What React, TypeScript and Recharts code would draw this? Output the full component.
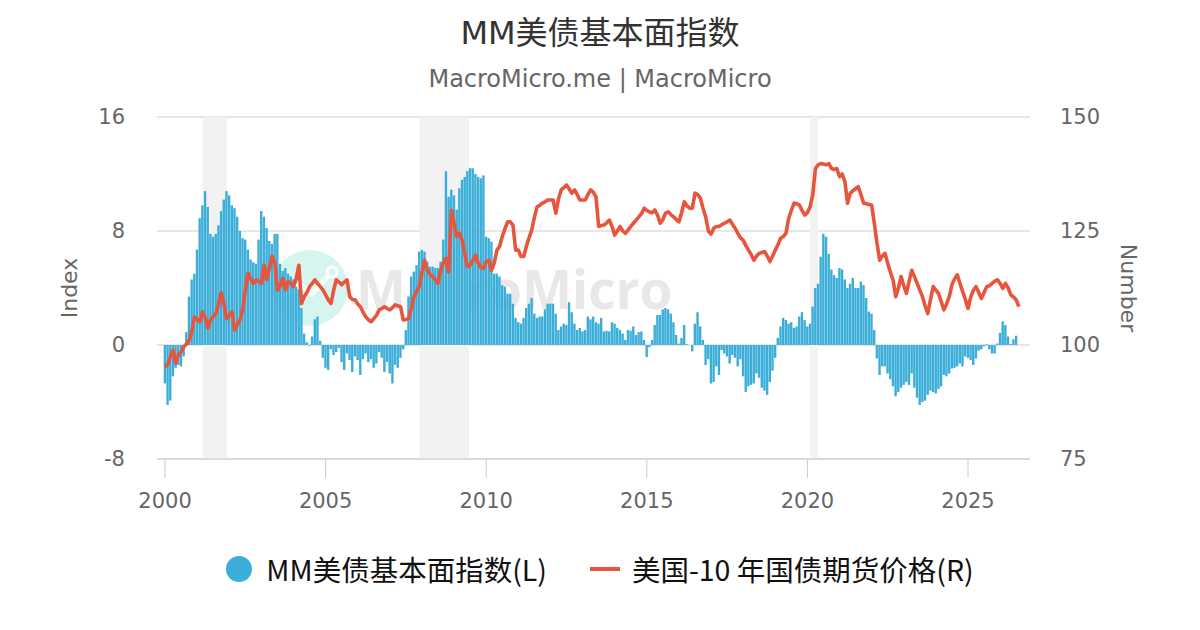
import { ComposedChart, Bar, Line, XAxis, YAxis, CartesianGrid, ReferenceArea } from 'recharts';

// monthly series, first value = Jan 2000
const START_YEAR = 2000;

// MM美债基本面指数 (left axis)
const INDEX_VALUES = [
  -2.7, -4.2, -3.9, -2.2, -1.6, -1.4, -1.5, -0.8, 0.9, 3.4, 4.6, 5.0,
  6.7, 8.9, 9.8, 10.8, 9.7, 7.8, 7.6, 7.8, 8.4, 9.4, 10.2, 10.8,
  10.5, 9.8, 9.6, 9.0, 8.0, 7.5, 7.4, 6.7, 6.0, 5.8, 5.7, 7.4,
  9.4, 9.0, 8.2, 7.3, 7.1, 7.8, 7.8, 5.7, 5.2, 5.4, 5.0, 4.8,
  4.6, 4.1, 3.9, 2.6, 0.8, 0.2, -0.05, 0.6, 1.8, 2.0, 0.3, -0.9,
  -1.6, -1.75, -0.3, -0.7, -0.5, -0.2, -1.2, -1.75, -0.6, -1.05, -1.9, -0.8,
  -1.05, -2.1, -1.0, -0.6, -1.2, -1.0, -1.6, -1.3, -0.5, -0.9, -1.9, -1.2,
  -2.0, -2.7, -1.4, -1.6, -0.9, -0.3, 1.05, 3.4, 4.8, 5.15, 5.6, 6.55,
  6.67, 6.55, 5.85, 5.5, 5.5, 5.4, 5.4, 5.85, 7.4, 12.2, 10.4, 10.9,
  10.5, 9.5, 11.0, 11.6, 11.8, 12.2, 12.4, 12.4, 12.0, 11.8, 11.7, 11.9,
  7.6, 7.5, 7.25, 5.0, 5.0, 4.8, 4.2, 4.1, 3.6, 3.6, 2.9, 1.9,
  1.6, 1.5, 1.9, 2.6, 2.9, 3.3, 2.2, 1.9, 2.0, 2.0, 2.5, 2.9,
  2.9, 2.9, 2.2, 1.05, 1.3, 1.5, 1.4, 3.0, 2.3, 1.5, 1.05, 1.2,
  0.95, 1.05, 2.0, 1.8, 2.0, 1.6, 1.5, 1.9, 0.95, 1.0, 0.95, 1.6,
  1.5, 1.2, 1.05, 0.8, 0.35, 1.05, 1.0, 1.3, 0.7, 0.9, 0.95, 0.35,
  -0.85, -0.15, 0.35, 1.4, 2.1, 2.1, 2.5, 2.6, 2.5, 2.2, 1.6, 0.7,
  0.1, 0.5, 1.4, 0.05, 0.0, -0.45, 1.5, 2.3, 1.3, 0.35, -1.4, -1.0,
  -2.7, -2.6, -1.5, -2.1, -0.35, -0.6, -0.8, -1.3, -0.7, -0.9, -1.5, -1.0,
  -2.2, -3.3, -2.9, -2.8, -2.7, -2.0, -2.3, -3.0, -3.2, -3.5, -2.6, -1.8,
  -0.9, 0.5, 1.3, 1.9, 1.75, 1.5, 1.6, 1.2, 1.3, 2.0, 2.3, 1.75,
  1.3, 1.5, 2.7, 4.0, 4.3, 6.2, 7.8, 7.6, 6.4, 5.3, 4.9, 4.7,
  5.4, 5.3, 4.6, 4.0, 4.3, 4.7, 4.0, 4.0, 4.45, 4.2, 3.3, 2.35,
  2.2, 1.05, -0.95, -2.1, -1.5, -1.5, -2.0, -2.4, -2.9, -3.6, -3.3, -3.0,
  -2.8, -2.6, -2.8, -2.0, -3.0, -3.7, -4.2, -4.0, -3.9, -3.5, -3.2, -3.3,
  -3.4, -3.1, -2.9, -2.1, -2.2, -2.0, -1.65, -1.6, -1.5, -1.3, -1.5, -0.8,
  -0.9, -1.05, -1.4, -0.95, -0.4, -0.3, -0.1, 0.05, -0.3, -0.6, -0.6, 0.1,
  0.85, 1.65, 1.4, 0.6, 0.05, 0.4, 0.65,
];

// 美国-10 年国债期货价格 (right axis)
const BOND_PRICES = [
  95.2, 95.8, 97.4, 98.9, 96.0, 97.8, 98.5, 99.6, 100.2, 101.0, 102.9, 106.2,
  105.6, 105.1, 107.3, 106.0, 103.7, 105.5, 106.2, 106.9, 109.0, 111.5, 109.0, 105.8,
  106.5, 107.3, 103.3, 104.5, 105.5, 107.7, 112.1, 115.7, 114.5, 113.5, 114.3, 114.0,
  113.5, 117.5, 114.3, 117.0, 119.5, 118.0, 112.0, 113.0, 114.6, 112.1, 113.9, 113.5,
  112.8, 114.5, 117.5, 109.1, 110.6, 111.5, 112.8, 113.5, 114.3, 113.5, 112.8, 112.1,
  111.0, 109.9, 109.1, 112.0, 114.3, 113.8, 113.2, 113.8, 114.3, 110.6, 110.0, 109.9,
  109.0, 108.4, 107.2, 106.2, 105.5, 105.1, 105.8, 106.5, 107.7, 108.0, 108.4, 108.0,
  107.7, 108.2, 108.8, 108.6, 108.4, 105.5, 105.6, 105.8, 108.0, 110.6, 111.8, 112.8,
  116.0, 118.6, 116.4, 115.5, 115.0, 114.3, 113.5, 116.4, 118.0, 119.0, 116.0, 129.5,
  126.7, 123.8, 124.5, 123.0, 120.0, 117.2, 117.5, 118.5, 119.7, 118.0, 117.0, 116.8,
  118.3, 118.6, 116.4, 118.0, 120.8, 121.6, 123.8, 125.5, 127.0, 127.0, 126.3, 120.8,
  120.8, 119.4, 119.4, 121.6, 123.5, 125.2, 128.0, 130.3, 130.6, 131.1, 131.4, 131.8,
  131.8, 131.8, 128.9, 132.0, 134.0, 134.5, 135.1, 134.2, 133.3, 134.0, 133.0, 131.8,
  131.8, 131.8, 133.0, 134.0, 133.5, 132.5, 126.0, 126.2, 126.3, 126.8, 127.4, 126.0,
  124.1, 125.0, 126.0, 125.0, 124.5, 125.2, 126.0, 126.7, 127.4, 128.1, 128.8, 130.0,
  129.5, 129.2, 129.0, 129.6, 128.5, 126.7, 127.5, 128.9, 129.2, 128.6, 128.1, 127.5,
  127.0, 129.0, 131.4, 130.5, 130.0, 130.0, 133.3, 133.0, 132.2, 130.0, 128.1, 125.0,
  124.3, 125.6, 126.0, 126.0, 126.4, 126.7, 127.0, 127.4, 126.5, 125.6, 124.5, 123.5,
  123.0, 121.8, 120.8, 119.8, 118.6, 119.5, 120.1, 120.3, 120.5, 119.5, 118.3, 119.5,
  120.8, 122.0, 123.4, 123.8, 124.5, 127.8, 129.5, 131.1, 131.0, 130.7, 129.5, 128.5,
  129.0, 130.3, 133.0, 138.7, 139.5, 139.8, 139.7, 139.5, 139.8, 138.7, 138.5, 138.7,
  136.9, 137.5, 135.8, 131.1, 133.3, 133.8, 134.3, 134.7, 133.0, 131.1, 131.0, 130.8,
  130.7, 126.7, 122.3, 118.6, 119.5, 120.1, 117.9, 116.0, 114.3, 110.6, 112.5, 115.0,
  113.0, 111.3, 114.0, 116.4, 115.0, 113.5, 112.0, 110.6, 108.5, 106.9, 110.0, 112.8,
  112.0, 111.3, 109.5, 107.7, 109.0, 110.6, 113.2, 114.5, 115.4, 113.5, 111.7, 110.0,
  108.0, 110.5, 112.0, 112.8, 111.5, 110.2, 111.5, 112.8, 113.0, 113.5, 114.0, 114.3,
  113.5, 112.4, 113.5, 112.5, 111.0, 110.5, 109.9, 108.4,
];

const YEAR_TICKS = [2000, 2005, 2010, 2015, 2020, 2025];
const INDEX_TICKS = [-8, 0, 8, 16];
const PRICE_TICKS = [75, 100, 125, 150];

// US recessions (shaded)
const RECESSION_FROM = [2001.17, 2007.92, 2020.08];
const RECESSION_TO = [2001.92, 2009.46, 2020.33];

const BAR_COLOR = '#3aaed8';
const LINE_COLOR = '#e8553d';
const FONT = '"DejaVu Sans", "Noto Sans CJK SC", sans-serif';

const rows = BOND_PRICES.map((price, i) => ({
  t: START_YEAR + i / 12,
  index: i < INDEX_VALUES.length ? INDEX_VALUES[i] : null,
  price,
}));

function Watermark() {
  return (
    <div style={{ position: 'absolute', left: 270, top: 248, display: 'flex', alignItems: 'center' }}>
      <svg width={80} height={80}>
        <circle cx={40} cy={40} r={38} fill="#d5f5ee" />
        <polyline points="14,50 30,36 42,46 58,28" fill="none" stroke="#fff" strokeWidth={5} />
        <circle cx={62} cy={24} r={5} fill="none" stroke="#fff" strokeWidth={3} />
      </svg>
      <span style={{ marginLeft: 6, fontFamily: '"Open Sans", sans-serif', fontWeight: 700, fontSize: 53, color: '#e8e8e8' }}>
        MacroMicro
      </span>
    </div>
  );
}

export default function App() {
  return (
    <div style={{ position: 'absolute', left: 0, top: 0, width: 1200, height: 630, background: '#fff', fontFamily: FONT }}>
      <div style={{ position: 'absolute', top: 7, width: 1200, textAlign: 'center', fontSize: 32, color: '#333' }}>
        MM美债基本面指数
      </div>
      <div style={{ position: 'absolute', top: 65, width: 1200, textAlign: 'center', fontSize: 24, color: '#666' }}>
        MacroMicro.me | MacroMicro
      </div>
      <Watermark />
      <div style={{ position: 'absolute', left: 0, top: 0 }}>
        <ComposedChart width={1200} height={630} data={rows} margin={{ top: 117, right: 0, bottom: 0, left: 0 }}>
          {RECESSION_FROM.map((from, i) => (
            <ReferenceArea
              key={`rec-${i}`}
              yAxisId="left"
              x1={from}
              x2={RECESSION_TO[i]}
              fill="#f2f2f2"
              fillOpacity={1}
              stroke="none"
            />
          ))}
          <CartesianGrid yAxisId="left" vertical={false} stroke="#e6e6e6" strokeWidth={2} />
          <XAxis
            dataKey="t"
            type="number"
            domain={[1999.75, 2026.93]}
            ticks={YEAR_TICKS}
            allowDataOverflow
            height={171}
            stroke="#cccccc"
            tickSize={19}
            tickMargin={15}
            tick={{ fill: '#666', fontSize: 21 }}
          />
          <YAxis
            yAxisId="left"
            orientation="left"
            width={157}
            domain={[-8, 16]}
            ticks={INDEX_TICKS}
            allowDataOverflow
            axisLine={false}
            tickLine={false}
            tickSize={0}
            tickMargin={32}
            tick={{ fill: '#666', fontSize: 21 }}
          />
          <YAxis
            yAxisId="right"
            orientation="right"
            width={170}
            domain={[75, 150]}
            ticks={PRICE_TICKS}
            allowDataOverflow
            axisLine={false}
            tickLine={false}
            tickSize={0}
            tickMargin={30}
            tick={{ fill: '#666', fontSize: 21, textAnchor: 'start' }}
          />
          <Bar yAxisId="left" dataKey="index" fill={BAR_COLOR} barSize={2.4} isAnimationActive={false} />
          <Line
            yAxisId="right"
            dataKey="price"
            stroke={LINE_COLOR}
            strokeWidth={3.6}
            strokeLinejoin="round"
            dot={false}
            type="linear"
            isAnimationActive={false}
          />
        </ComposedChart>
      </div>
      <div style={{ position: 'absolute', left: 69, top: 288, transform: 'translate(-50%, -50%) rotate(-90deg)', fontSize: 22, color: '#666' }}>
        Index
      </div>
      <div style={{ position: 'absolute', left: 1128, top: 288, transform: 'translate(-50%, -50%) rotate(90deg)', fontSize: 22, color: '#666' }}>
        Number
      </div>
      <div
        style={{
          position: 'absolute',
          top: 548,
          width: 1200,
          display: 'flex',
          justifyContent: 'center',
          alignItems: 'center',
          fontFamily: '"Noto Sans CJK SC", sans-serif',
          fontSize: 28.5,
          color: '#111',
        }}
      >
        <span style={{ width: 26, height: 26, borderRadius: 13, background: BAR_COLOR, display: 'inline-block' }} />
        <span style={{ marginLeft: 14 }}>MM美债基本面指数(L)</span>
        <span style={{ marginLeft: 43, width: 30, height: 4, background: LINE_COLOR, display: 'inline-block' }} />
        <span style={{ marginLeft: 12 }}>美国-10 年国债期货价格(R)</span>
      </div>
    </div>
  );
}
